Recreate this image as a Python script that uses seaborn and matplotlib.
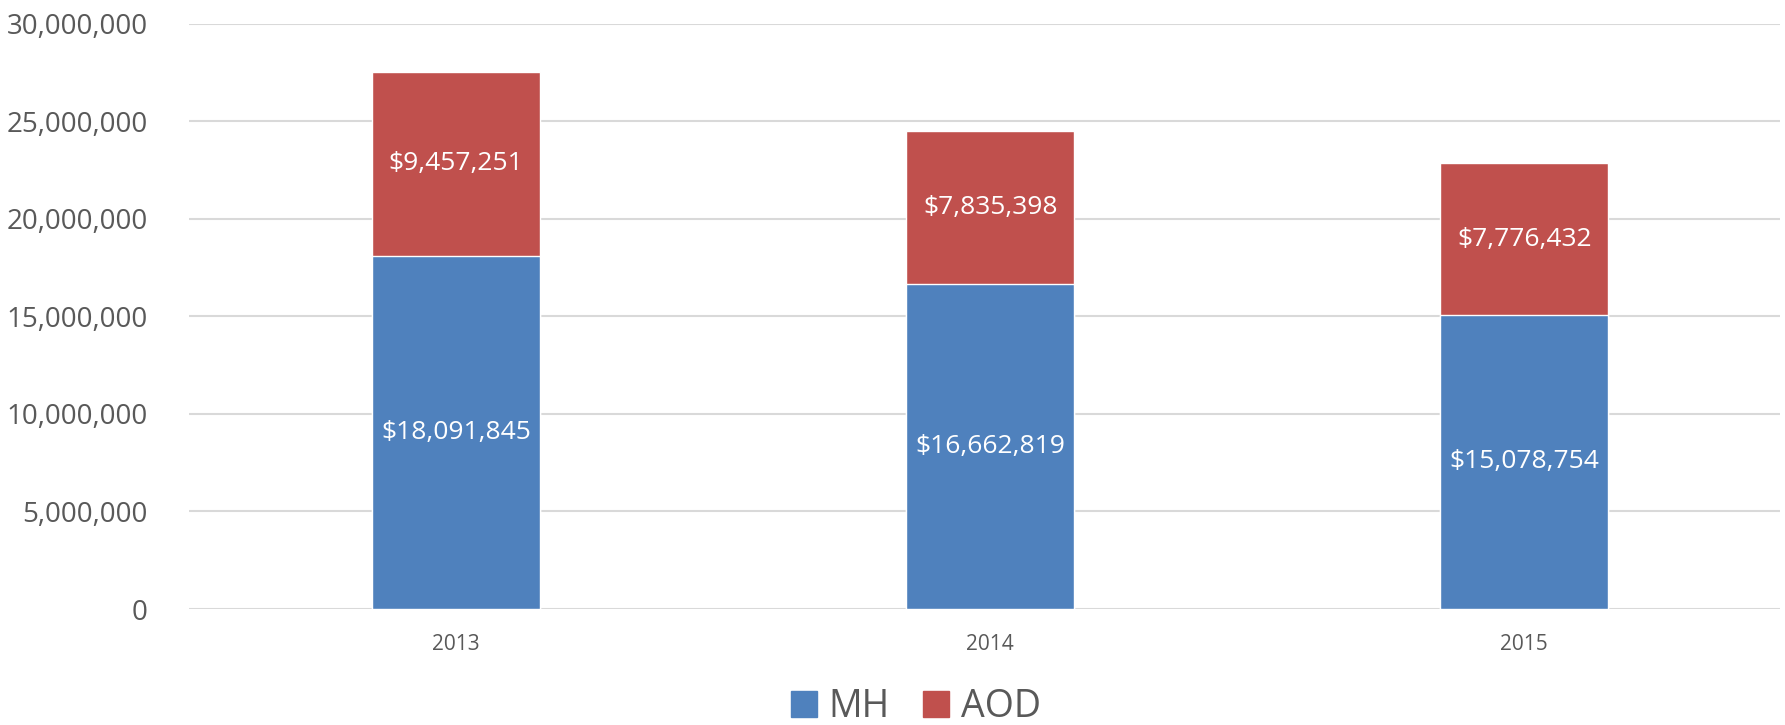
import pandas as pd
import matplotlib
matplotlib.use('Agg')
import matplotlib.pyplot as plt
import seaborn as sns
from matplotlib.patches import Patch
from matplotlib.ticker import FuncFormatter

years = ['2013', '2014', '2015']
mh = [18091845, 16662819, 15078754]
aod = [9457251, 7835398, 7776432]

df = pd.DataFrame({'Year': years, 'MH': mh, 'AOD': aod})
df['Total'] = df['MH'] + df['AOD']

blue = '#4F81BD'
red = '#C0504D'
gray = '#595959'

sns.set_style('white')
plt.rcParams['font.family'] = ['Open Sans', 'DejaVu Sans']

fig = plt.figure(figsize=(17.85, 7.25), dpi=100)
ax = fig.add_axes([0.106, 0.160, 0.891, 0.807])

# stacked: total in red, MH drawn over it in blue
sns.barplot(data=df, x='Year', y='Total', color=red, width=0.315, ax=ax, saturation=1, zorder=3)
sns.barplot(data=df, x='Year', y='MH', color=blue, width=0.315, ax=ax, saturation=1, zorder=4)

# data labels
for i, row in df.iterrows():
    ax.text(i, row['MH'] / 2, f"${row['MH']:,}", ha='center', va='center',
            color='white', fontsize=19, zorder=5)
    ax.text(i, row['MH'] + row['AOD'] / 2, f"${row['AOD']:,}", ha='center', va='center',
            color='white', fontsize=19, zorder=5)

ax.set_ylim(0, 30000000)
ax.set_yticks(range(0, 30000001, 5000000))
ax.yaxis.set_major_formatter(FuncFormatter(lambda v, p: f"{int(v):,}"))
ax.set_xlim(-0.5, 2.478)
ax.grid(axis='y', color='#D9D9D9', linewidth=1.5, zorder=0)
ax.set_axisbelow(True)
for s in ax.spines.values():
    s.set_visible(False)
ax.tick_params(axis='y', length=0, labelsize=20, labelcolor=gray, pad=30)
ax.tick_params(axis='x', length=0, labelsize=15, labelcolor=gray, pad=18)
ax.set_xlabel('')
ax.set_ylabel('')

handles = [Patch(color=blue, label='MH'), Patch(color=red, label='AOD')]
fig.legend(handles=handles, loc='center', bbox_to_anchor=(0.513, 0.025), ncol=2,
           frameon=False, fontsize=27, handlelength=0.7, handleheight=0.7,
           handletextpad=0.3, columnspacing=0.9, labelcolor=gray)

fig.savefig('out.png', dpi=100)
